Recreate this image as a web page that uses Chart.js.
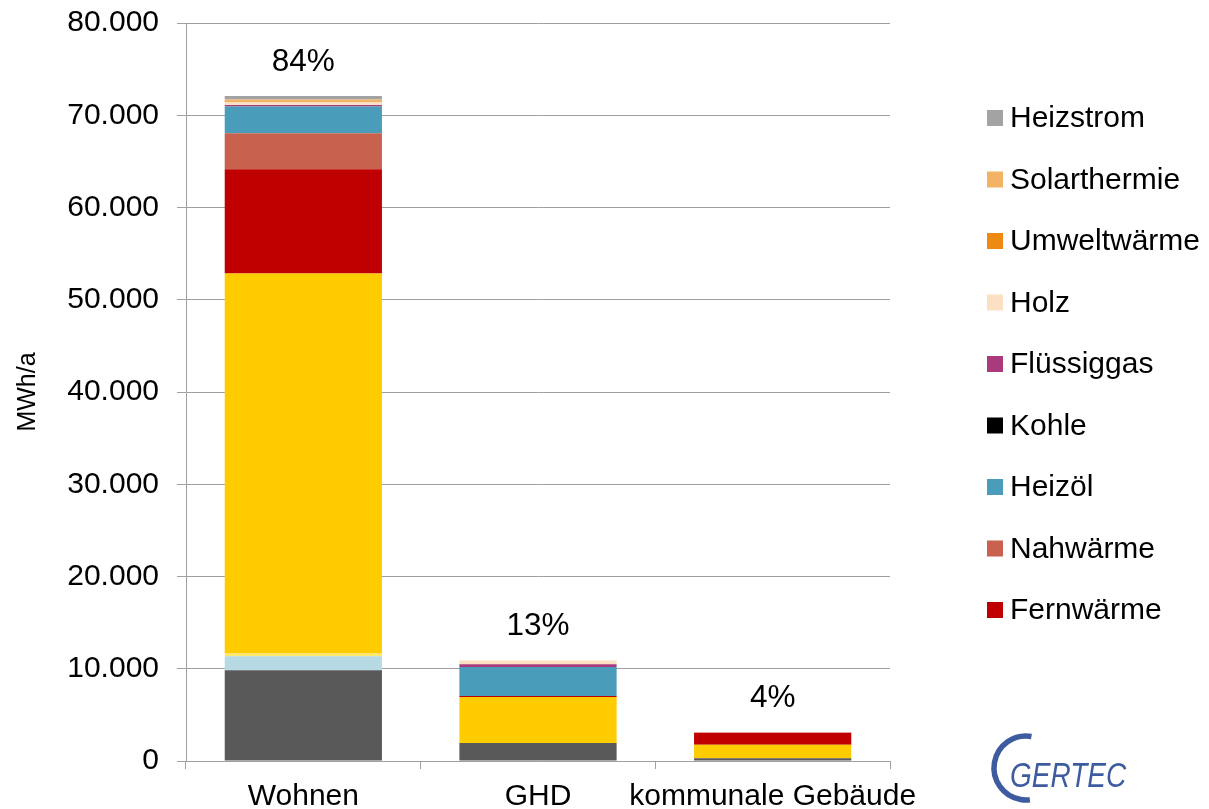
<!DOCTYPE html>
<html lang="de">
<head>
<meta charset="utf-8">
<title>Wärmebedarf nach Sektoren</title>
<script src="https://cdn.jsdelivr.net/npm/chart.js@4/dist/chart.umd.min.js"></script>
<style>
  html, body { margin: 0; padding: 0; background: #fff; }
  #wrap { width: 1209px; height: 809px; }
</style>
</head>
<body>
<div id="wrap"><canvas id="chart" width="1209" height="809"></canvas></div>
<script>
// Endenergie Wärme in MWh/a je Sektor
const categories = ['Wohnen', 'GHD', 'kommunale Gebäude'];

// Energieträger, von unten nach oben gestapelt
const strom        = [9850, 1950, 300];
const biogas       = [1500, 0, 0];
const bioerdgas    = [300, 0, 0];
const erdgas       = [41200, 5000, 1450];
const fernwaerme   = [11300, 100, 1300];
const nahwaerme    = [3900, 0, 50];
const heizoel      = [2900, 3150, 0];
const kohle        = [0, 0, 0];
const fluessiggas  = [150, 300, 0];
const holz         = [300, 400, 0];
const umweltwaerme = [100, 0, 0];
const solarthermie = [200, 0, 0];
const heizstrom    = [400, 0, 0];

const yTicks = [0, 10000, 20000, 30000, 40000, 50000, 60000, 70000, 80000];

// only these carriers appear in the legend (top entry first)
const legendNames = ['Heizstrom', 'Solarthermie', 'Umweltwärme', 'Holz', 'Flüssiggas',
                     'Kohle', 'Heizöl', 'Nahwärme', 'Fernwärme'];

const FONT = '"Liberation Sans", Arial, sans-serif';

const series = [
  { label: 'Strom',        data: strom,        color: '#595959' },
  { label: 'Biogas',       data: biogas,       color: '#B7D9E3' },
  { label: 'Bio-Erdgas',   data: bioerdgas,    color: '#FFE86A' },
  { label: 'Erdgas',       data: erdgas,       color: '#FFCC00' },
  { label: 'Fernwärme',    data: fernwaerme,   color: '#C00000' },
  { label: 'Nahwärme',     data: nahwaerme,    color: '#C8624F' },
  { label: 'Heizöl',       data: heizoel,      color: '#4A9CBB' },
  { label: 'Kohle',        data: kohle,        color: '#000000' },
  { label: 'Flüssiggas',   data: fluessiggas,  color: '#A93B7C' },
  { label: 'Holz',         data: holz,         color: '#FBE0C3' },
  { label: 'Umweltwärme',  data: umweltwaerme, color: '#EE8A12' },
  { label: 'Solarthermie', data: solarthermie, color: '#F3B366' },
  { label: 'Heizstrom',    data: heizstrom,    color: '#A3A3A3' }
];

const fmt = new Intl.NumberFormat('de-DE');

// share of each sector above its bar
const percentLabels = {
  id: 'percentLabels',
  afterDatasetsDraw(chart) {
    const ctx = chart.ctx;
    const y = chart.scales.y;
    const totals = categories.map((_, i) =>
      chart.data.datasets.reduce((s, ds) => s + ds.data[i], 0));
    const sum = totals.reduce((a, b) => a + b, 0);
    const meta = chart.getDatasetMeta(0);
    ctx.save();
    ctx.font = '31.5px ' + FONT;
    ctx.fillStyle = '#000';
    ctx.textAlign = 'center';
    ctx.textBaseline = 'middle';
    totals.forEach((t, i) => {
      const pct = Math.round(t / sum * 100) + '%';
      ctx.fillText(pct, meta.data[i].x, y.getPixelForValue(t) - 34);
    });
    ctx.restore();
  }
};

// legend column on the right side
const sideLegend = {
  id: 'sideLegend',
  afterDraw(chart) {
    const ctx = chart.ctx;
    ctx.save();
    ctx.font = '30px ' + FONT;
    ctx.textBaseline = 'middle';
    legendNames.forEach((name, i) => {
      const ds = chart.data.datasets.find(d => d.label === name);
      const cy = 118 + i * 61.5;
      ctx.fillStyle = ds.backgroundColor;
      ctx.fillRect(987, cy - 8, 16, 16);
      ctx.fillStyle = '#000';
      ctx.fillText(name, 1010, cy + 1);
    });
    ctx.restore();
  }
};

// company mark, lower right
const logo = {
  id: 'logo',
  afterDraw(chart) {
    const ctx = chart.ctx;
    ctx.save();
    ctx.strokeStyle = '#3D5C9F';
    ctx.lineWidth = 5.5;
    ctx.beginPath();
    ctx.arc(1026, 768, 32, -1.4, 1.45, true);
    ctx.stroke();
    ctx.fillStyle = '#3D5C9F';
    ctx.font = 'italic 35px ' + FONT;
    ctx.textBaseline = 'alphabetic';
    ctx.translate(1010, 787);
    ctx.scale(0.8, 1);
    ctx.fillText('GERTEC', 0, 0);
    ctx.restore();
  }
};

new Chart(document.getElementById('chart'), {
  type: 'bar',
  data: {
    labels: categories,
    datasets: series.map(s => ({
      label: s.label,
      data: s.data,
      backgroundColor: s.color,
      borderWidth: 0,
      barPercentage: 0.67,
      categoryPercentage: 1
    }))
  },
  options: {
    responsive: false,
    animation: false,
    layout: { padding: { top: 23, right: 319, left: 0, bottom: 0 } },
    plugins: {
      legend: { display: false },
      tooltip: { enabled: false }
    },
    scales: {
      x: {
        stacked: true,
        afterFit(scale) { scale.height = 48; },
        grid: {
          offset: true,
          drawOnChartArea: false,
          tickLength: 8,
          color: '#A0A0A0'
        },
        border: { color: '#A0A0A0' },
        ticks: {
          color: '#000',
          font: { family: FONT, size: 30 },
          padding: 10,
          maxRotation: 0,
          autoSkip: false
        }
      },
      y: {
        stacked: true,
        min: 0,
        max: 80000,
        afterFit(scale) {
          scale.width = 186;
          scale.paddingTop = 0;
          scale.paddingBottom = 0;
        },
        afterBuildTicks(scale) { scale.ticks = yTicks.map(v => ({ value: v })); },
        grid: { color: '#A0A0A0', tickLength: 9 },
        border: { color: '#A0A0A0' },
        ticks: {
          color: '#000',
          font: { family: FONT, size: 30 },
          padding: 18,
          callback: v => fmt.format(v)
        },
        title: {
          display: true,
          text: 'MWh/a',
          color: '#000',
          font: { family: FONT, size: 25 },
          padding: { top: 13, bottom: 0 }
        }
      }
    }
  },
  plugins: [percentLabels, sideLegend, logo]
});
</script>
</body>
</html>
